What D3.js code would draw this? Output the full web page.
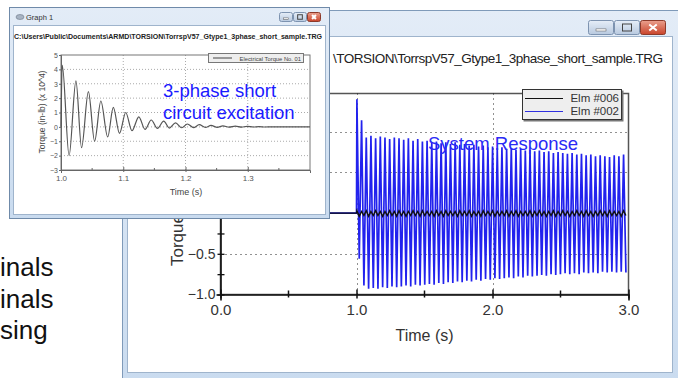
<!DOCTYPE html>
<html>
<head>
<meta charset="utf-8">
<script src="https://cdn.jsdelivr.net/npm/d3@7"></script>
<style>
  body { margin: 0; background: #fff; }
  svg { display: block; font-family: "Liberation Sans", Arial, sans-serif; }
</style>
</head>
<body>
<svg id="chart" width="678" height="378"></svg>
<script>
// ---- big window : system response (one peak + one trough per cycle after the fault)
var sysFaultTime = 1.0;
var sysCycle = 0.0344;
var elm002Peaks = [1.40, 1.14, 0.93, 0.95, 0.92, 0.94, 0.93, 0.91, 0.93, 0.92, 0.90, 0.92, 0.89, 0.91, 0.88,
  0.89, 0.87, 0.88, 0.86, 0.87, 0.85, 0.87, 0.84, 0.85, 0.83, 0.84, 0.82, 0.83, 0.81, 0.82, 0.80, 0.81,
  0.79, 0.80, 0.78, 0.79, 0.77, 0.78, 0.76, 0.77, 0.75, 0.76, 0.74, 0.75, 0.74, 0.73, 0.74, 0.72, 0.73,
  0.71, 0.72, 0.70, 0.71, 0.70, 0.69, 0.71, 0.70, 0.72];
var elm002Troughs = [-0.56, -0.89, -0.93, -0.92, -0.93, -0.91, -0.92, -0.90, -0.91, -0.90, -0.89, -0.90, -0.88,
  -0.89, -0.88, -0.87, -0.88, -0.86, -0.87, -0.85, -0.86, -0.84, -0.85, -0.83, -0.84, -0.82, -0.83, -0.81,
  -0.82, -0.80, -0.81, -0.80, -0.79, -0.80, -0.78, -0.79, -0.77, -0.78, -0.77, -0.76, -0.77, -0.75, -0.76,
  -0.75, -0.74, -0.75, -0.74, -0.75, -0.73, -0.74, -0.73, -0.74, -0.72, -0.73, -0.72, -0.73, -0.72, -0.73];
var elm006Peaks = [0.03, 0.02, 0.03, 0.02, 0.03, 0.02, 0.02, 0.03, 0.02, 0.03, 0.02, 0.02, 0.03, 0.02, 0.03,
  0.02, 0.02, 0.03, 0.02, 0.03, 0.02, 0.02, 0.03, 0.02, 0.03, 0.02, 0.02, 0.03, 0.02, 0.03, 0.02, 0.02,
  0.03, 0.02, 0.03, 0.02, 0.02, 0.03, 0.02, 0.03, 0.02, 0.02, 0.03, 0.02, 0.03, 0.02, 0.02, 0.03, 0.02,
  0.03, 0.02, 0.02, 0.03, 0.02, 0.03, 0.02, 0.02, 0.03];
var elm006Troughs = [-0.04, -0.03, -0.04, -0.03, -0.03, -0.04, -0.03, -0.03, -0.04, -0.03, -0.04, -0.03, -0.03,
  -0.04, -0.03, -0.03, -0.04, -0.03, -0.04, -0.03, -0.03, -0.04, -0.03, -0.03, -0.04, -0.03, -0.04, -0.03,
  -0.03, -0.04, -0.03, -0.03, -0.04, -0.03, -0.04, -0.03, -0.03, -0.04, -0.03, -0.03, -0.04, -0.03, -0.04,
  -0.03, -0.03, -0.04, -0.03, -0.03, -0.04, -0.03, -0.04, -0.03, -0.03, -0.04, -0.03, -0.03, -0.04, -0.03];
var sysXTicks = [0, 1, 2, 3];
var sysXMinor = [0.5, 1.5, 2.5];
var sysYLabels = [-1.0, -0.5];
var sysYTicks = [-1, -0.75, -0.5, -0.25, 0, 0.25, 0.5, 0.75, 1, 1.25];
var sysGridY = [-0.5, 0.5, 1.0];
var sysGridX = [1, 2];
var sysLegend = ["Elm #006", "Elm #002"];

// ---- small window : 3-phase short circuit excitation (extrema)
var excTime = [1.000, 1.002, 1.013, 1.024, 1.033, 1.044, 1.054, 1.064, 1.075, 1.084, 1.094, 1.104, 1.114,
  1.125, 1.135, 1.145, 1.155, 1.165, 1.174, 1.184, 1.194, 1.203, 1.213, 1.222, 1.232, 1.241, 1.251, 1.260,
  1.270, 1.280, 1.290, 1.299, 1.309, 1.318, 1.328, 1.338, 1.400];
var excTorque = [0, 4.3, -2.0, 3.2, -1.45, 2.45, -1.0, 1.8, -0.7, 1.35, -0.45, 1.0, -0.27,
  0.7, -0.17, 0.48, -0.1, 0.4, -0.08, 0.28, -0.06, 0.2, -0.05, 0.15, -0.04, 0.1, -0.03, 0.07,
  -0.02, 0.05, -0.02, 0.04, -0.01, 0.02, -0.01, 0, 0];
var excXTicks = [1.0, 1.1, 1.2, 1.3];
var excXMinor = [1.05, 1.15, 1.25, 1.35];
var excYTicks = [-3, -2, -1, 0, 1, 2, 3, 4, 5];

var leftLines = ["inals", "inals", "sing"];

var svg = d3.select("#chart");
var defs = svg.append("defs");

function gradient(id, stops) {
  var g = defs.append("linearGradient").attr("id", id)
    .attr("x1", 0).attr("y1", 0).attr("x2", 0).attr("y2", 1);
  stops.forEach(function (s) {
    g.append("stop").attr("offset", s[0]).attr("stop-color", s[1]);
  });
}
gradient("frameGrad", [[0, "#e3ecf7"], [1, "#c9dbef"]]);
gradient("btnGrad", [[0, "#e6eef8"], [1, "#b8c9df"]]);
gradient("closeGrad", [[0, "#eaa08e"], [1, "#c9432a"]]);

function windowButtons(g, x, y, w, h) {
  [0, 1, 2].forEach(function (i) {
    var bx = x + i * (w + 1);
    g.append("rect").attr("x", bx + 0.5).attr("y", y + 0.5).attr("width", w).attr("height", h)
      .attr("rx", 2).attr("fill", i === 2 ? "url(#closeGrad)" : "url(#btnGrad)")
      .attr("stroke", i === 2 ? "#8c3a2a" : "#7d93b0");
    var cx = bx + w / 2 + 0.5, cy = y + h / 2 + 0.5;
    if (i === 0) {
      g.append("rect").attr("x", cx - w * 0.2).attr("y", cy + h * 0.1).attr("width", w * 0.4).attr("height", h * 0.15)
        .attr("fill", "#fff").attr("stroke", "#555").attr("stroke-width", 0.5);
    } else if (i === 1) {
      g.append("rect").attr("x", cx - w * 0.18).attr("y", cy - h * 0.25).attr("width", w * 0.36).attr("height", h * 0.5)
        .attr("fill", "none").attr("stroke", "#444").attr("stroke-width", 1);
    } else {
      g.append("path").attr("d", "M" + (cx - w * 0.15) + "," + (cy - h * 0.22) + "L" + (cx + w * 0.15) + "," + (cy + h * 0.22) +
        "M" + (cx + w * 0.15) + "," + (cy - h * 0.22) + "L" + (cx - w * 0.15) + "," + (cy + h * 0.22))
        .attr("stroke", "#fff").attr("stroke-width", 2);
    }
  });
}

// =================== big window ===================
var big = svg.append("g");
big.append("rect").attr("x", 122.5).attr("y", 10.5).attr("width", 570).attr("height", 380)
  .attr("fill", "url(#frameGrad)").attr("stroke", "#7f9ab9");
big.append("rect").attr("x", 127.5).attr("y", 36.5).attr("width", 545).attr("height", 336)
  .attr("fill", "#fff").attr("stroke", "#9fb4cc");
windowButtons(big, 588, 20, 25, 14);
// only the part of the path that is not behind Graph 1
big.append("text").attr("x", 333).attr("y", 63).attr("font-size", 13.5).attr("fill", "#222")
  .attr("letter-spacing", -0.5)
  .text("\\TORSION\\TorrspV57_Gtype1_3phase_short_sample.TRG");

var sx = d3.scaleLinear().domain([0, 3]).range([220.5, 628.5]);
var sy = d3.scaleLinear().domain([-1, 1.47]).range([294.5, 93.5]);

big.append("defs").append("clipPath").attr("id", "sysClip")
  .append("rect").attr("x", sx(0)).attr("y", sy(1.47)).attr("width", sx(3) - sx(0)).attr("height", sy(-1) - sy(1.47));

// frame
big.append("rect").attr("x", sx(0)).attr("y", sy(1.47)).attr("width", sx(3) - sx(0)).attr("height", sy(-1) - sy(1.47))
  .attr("fill", "none").attr("stroke", "#555").attr("stroke-width", 1.5);

// dotted grid
big.selectAll(".gy").data(sysGridY).enter().append("line")
  .attr("x1", sx(0)).attr("x2", sx(3)).attr("y1", function (d) { return Math.round(sy(d)) + 0.5; })
  .attr("y2", function (d) { return Math.round(sy(d)) + 0.5; })
  .attr("stroke", "#222").attr("stroke-dasharray", "1,4");
big.selectAll(".gx").data(sysGridX).enter().append("line")
  .attr("y1", sy(1.47)).attr("y2", sy(-1)).attr("x1", function (d) { return Math.round(sx(d)) + 0.5; })
  .attr("x2", function (d) { return Math.round(sx(d)) + 0.5; })
  .attr("stroke", "#222").attr("stroke-dasharray", "1,4");

// axes
var xAxis = d3.axisBottom(sx).tickValues(sysXTicks).tickSize(6).tickFormat(d3.format(".1f"));
var xg = big.append("g").attr("transform", "translate(0," + sy(-1) + ")").call(xAxis);
xg.select(".domain").attr("stroke", "#111").attr("stroke-width", 1.6);
xg.selectAll(".tick line").attr("y1", -5).attr("y2", 4).attr("stroke", "#111").attr("stroke-width", 1.5);
xg.selectAll(".tick text").attr("y", 10).attr("font-size", 15).attr("fill", "#333")
  .attr("font-family", "Liberation Sans, Arial, sans-serif");
big.selectAll(".xm").data(sysXMinor).enter().append("line")
  .attr("x1", function (d) { return sx(d); }).attr("x2", function (d) { return sx(d); })
  .attr("y1", sy(-1) - 4).attr("y2", sy(-1) + 3).attr("stroke", "#111").attr("stroke-width", 1.5);

var yAxis = d3.axisLeft(sy).tickValues(sysYTicks).tickSize(4).tickFormat(function (d) {
  return sysYLabels.indexOf(d) >= 0 ? d3.format(".1f")(d) : "";
});
var yg = big.append("g").attr("transform", "translate(" + sx(0) + ",0)").call(yAxis);
yg.select(".domain").attr("stroke", "#111").attr("stroke-width", 1.6);
yg.selectAll(".tick line").attr("x1", -3).attr("x2", 4).attr("stroke", "#111").attr("stroke-width", 1.3);
yg.selectAll(".tick text").attr("x", -5).attr("font-size", 14).attr("fill", "#333")
  .attr("font-family", "Liberation Sans, Arial, sans-serif");

big.append("text").attr("transform", "translate(183,266) rotate(-90)")
  .attr("font-size", 17).attr("fill", "#333").text("Torque (pu)");
big.append("text").attr("x", sx(1.5)).attr("y", 341).attr("text-anchor", "middle")
  .attr("font-size", 16).attr("fill", "#333").text("Time (s)");

function zigzag(peaks, troughs) {
  var pts = [{ t: 0, v: 0 }, { t: sysFaultTime, v: 0 }];
  peaks.forEach(function (p, i) {
    var t0 = sysFaultTime + 0.003 + i * sysCycle;
    pts.push({ t: t0, v: p });
    pts.push({ t: t0 + sysCycle / 2, v: troughs[i] });
  });
  return pts;
}
var sysLine = d3.line().x(function (d) { return sx(d.t); }).y(function (d) { return sy(d.v); });
var series = big.append("g").attr("clip-path", "url(#sysClip)");
series.append("path").datum(zigzag(elm002Peaks, elm002Troughs)).attr("d", sysLine)
  .attr("fill", "none").attr("stroke", "#2222ee").attr("stroke-width", 1.7);
series.append("path").datum(zigzag(elm006Peaks, elm006Troughs)).attr("d", sysLine)
  .attr("fill", "none").attr("stroke", "#111").attr("stroke-width", 1.4);

big.append("text").attr("x", 428).attr("y", 150).attr("font-size", 18.5).attr("fill", "#2a2af5")
  .text("System Response");

// legend
var lg = big.append("g").attr("transform", "translate(522,89)");
lg.append("rect").attr("x", 1.5).attr("y", 1.5).attr("width", 100).attr("height", 31).attr("fill", "#777");
lg.append("rect").attr("x", 0.5).attr("y", 0.5).attr("width", 99).attr("height", 30)
  .attr("fill", "#eeeeee").attr("stroke", "#333");
sysLegend.forEach(function (name, i) {
  lg.append("line").attr("x1", 3).attr("x2", 41).attr("y1", 9.5 + i * 13).attr("y2", 9.5 + i * 13)
    .attr("stroke", i === 0 ? "#111" : "#3030e0");
  lg.append("text").attr("x", 97).attr("y", 13 + i * 13).attr("text-anchor", "end")
    .attr("font-size", 11.5).attr("fill", "#333").text(name);
});

// left text (cut off slide body)
svg.selectAll(".lt").data(leftLines).enter().append("text")
  .attr("x", 0).attr("y", function (d, i) { return 276 + i * 31.5; })
  .attr("font-size", 26).attr("fill", "#111").text(function (d) { return d; });

// =================== small window ===================
var sm = svg.append("g");
sm.append("rect").attr("x", 9.5).attr("y", 7.5).attr("width", 320).attr("height", 211)
  .attr("fill", "url(#frameGrad)").attr("stroke", "#6f8aa9");
sm.append("rect").attr("x", 13.5).attr("y", 25.5).attr("width", 312).attr("height", 189)
  .attr("fill", "#fff").attr("stroke", "#9fb4cc");
windowButtons(sm, 279, 12, 13, 9);
sm.append("ellipse").attr("cx", 20).attr("cy", 17).attr("rx", 4).attr("ry", 2.5)
  .attr("fill", "#a8b4c4").attr("stroke", "#6b7788").attr("stroke-width", 0.6);
sm.append("text").attr("x", 26).attr("y", 19.5).attr("font-size", 7.5).attr("fill", "#333").text("Graph 1");
sm.append("text").attr("x", 14).attr("y", 38.5).attr("font-size", 8).attr("font-weight", "bold")
  .attr("fill", "#222").attr("textLength", 308).attr("lengthAdjust", "spacingAndGlyphs")
  .text("C:\\Users\\Public\\Documents\\ARMD\\TORSION\\TorrspV57_Gtype1_3phase_short_sample.TRG");

var ex = d3.scaleLinear().domain([1.0, 1.4]).range([61, 310]);
var ey = d3.scaleLinear().domain([-3, 5]).range([170, 55]);

sm.selectAll(".egy").data(excYTicks.slice(1, -1)).enter().append("line")
  .attr("x1", ex(1.0)).attr("x2", ex(1.4)).attr("y1", function (d) { return ey(d); }).attr("y2", function (d) { return ey(d); })
  .attr("stroke", "#aaa").attr("stroke-dasharray", "1,2");
sm.selectAll(".egx").data(excXTicks.slice(1)).enter().append("line")
  .attr("y1", ey(5)).attr("y2", ey(-3)).attr("x1", function (d) { return ex(d); }).attr("x2", function (d) { return ex(d); })
  .attr("stroke", "#aaa").attr("stroke-dasharray", "1,2");
sm.append("rect").attr("x", ex(1.0)).attr("y", ey(5)).attr("width", ex(1.4) - ex(1.0)).attr("height", ey(-3) - ey(5))
  .attr("fill", "none").attr("stroke", "#777");

var exAxis = d3.axisBottom(ex).tickValues(excXTicks).tickSize(3).tickFormat(d3.format(".1f"));
var exg = sm.append("g").attr("transform", "translate(0," + ey(-3) + ")").call(exAxis);
exg.select(".domain").attr("stroke", "#666");
exg.selectAll(".tick line").attr("y1", -3).attr("y2", 2).attr("stroke", "#666");
exg.selectAll(".tick text").attr("y", 5).attr("font-size", 8).attr("fill", "#555")
  .attr("font-family", "Liberation Sans, Arial, sans-serif");
sm.selectAll(".exm").data(excXMinor).enter().append("line")
  .attr("x1", function (d) { return ex(d); }).attr("x2", function (d) { return ex(d); })
  .attr("y1", ey(-3) - 2).attr("y2", ey(-3) + 1).attr("stroke", "#666");

var eyAxis = d3.axisLeft(ey).tickValues(excYTicks).tickSize(2).tickFormat(d3.format("d"));
var eyg = sm.append("g").attr("transform", "translate(" + ex(1.0) + ",0)").call(eyAxis);
eyg.select(".domain").attr("stroke", "#666");
eyg.selectAll(".tick line").attr("stroke", "#666");
eyg.selectAll(".tick text").attr("x", -3).attr("font-size", 7).attr("fill", "#555")
  .attr("font-family", "Liberation Sans, Arial, sans-serif");

sm.append("text").attr("transform", "translate(45,112) rotate(-90)").attr("text-anchor", "middle")
  .attr("font-size", 8.5).attr("fill", "#444").text("Torque (in-lb) (x 10^4)");
sm.append("text").attr("x", 186).attr("y", 195).attr("text-anchor", "middle")
  .attr("font-size", 9).attr("fill", "#444").text("Time (s)");

var excData = excTime.map(function (t, i) { return { t: t, v: excTorque[i] }; });
sm.append("path").datum(excData)
  .attr("d", d3.line().x(function (d) { return ex(d.t); }).y(function (d) { return ey(d.v); }).curve(d3.curveMonotoneX))
  .attr("fill", "none").attr("stroke", "#555").attr("stroke-width", 1.2);

// small legend
var slg = sm.append("g").attr("transform", "translate(208,53)");
slg.append("rect").attr("x", 0.5).attr("y", 0.5).attr("width", 95).attr("height", 9)
  .attr("fill", "#eee").attr("stroke", "#777");
slg.append("line").attr("x1", 5).attr("x2", 24).attr("y1", 5).attr("y2", 5).attr("stroke", "#444");
slg.append("text").attr("x", 93).attr("y", 7.5).attr("text-anchor", "end").attr("font-size", 5.8)
  .attr("fill", "#444").text("Electrical Torque No. 01");

sm.selectAll(".ann").data(["3-phase short", "circuit excitation"]).enter().append("text")
  .attr("x", 163).attr("y", function (d, i) { return 97 + i * 22; })
  .attr("font-size", 18.5).attr("fill", "#1a1aff").text(function (d) { return d; });
</script>
</body>
</html>
